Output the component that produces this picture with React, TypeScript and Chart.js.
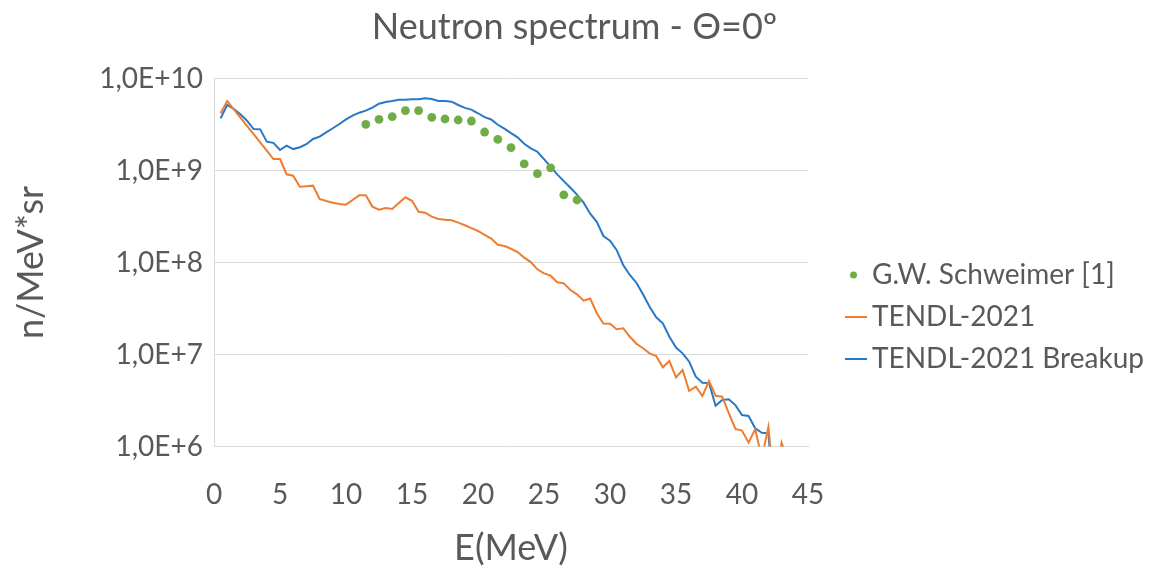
import React, { useEffect, useRef } from "react";
import { Chart, registerables } from "chart.js";

Chart.register(...registerables);

const chartTitle = "Neutron spectrum - Θ=0º";
const xAxisTitle = "E(MeV)";
const yAxisTitle = "n/MeV*sr";
const seriesNames = ["G.W. Schweimer [1]", "TENDL-2021", "TENDL-2021 Breakup"];

const xTickValues = [0, 5, 10, 15, 20, 25, 30, 35, 40, 45];
const yTickValues = [1e6, 1e7, 1e8, 1e9, 1e10];
const yTickLabels = ["1,0E+6", "1,0E+7", "1,0E+8", "1,0E+9", "1,0E+10"];

const energyMeV = [
  0.5, 1.0, 1.5, 2.0, 2.5, 3.0, 3.5, 4.0, 4.5, 5.0,
  5.5, 6.0, 6.5, 7.0, 7.5, 8.0, 8.5, 9.0, 9.5, 10.0,
  10.5, 11.0, 11.5, 12.0, 12.5, 13.0, 13.5, 14.0, 14.5, 15.0,
  15.5, 16.0, 16.5, 17.0, 17.5, 18.0, 18.5, 19.0, 19.5, 20.0,
  20.5, 21.0, 21.5, 22.0, 22.5, 23.0, 23.5, 24.0, 24.5, 25.0,
  25.5, 26.0, 26.5, 27.0, 27.5, 28.0, 28.5, 29.0, 29.5, 30.0,
  30.5, 31.0, 31.5, 32.0, 32.5, 33.0, 33.5, 34.0, 34.5, 35.0,
  35.5, 36.0, 36.5, 37.0, 37.5, 38.0, 38.5, 39.0, 39.5, 40.0,
  40.5, 41.0, 41.5, 42.0, 42.5, 43.0, 43.5,
];

const tendlValues = [
  4.19e9, 5.69e9, 4.62e9, 3.75e9, 3.05e9, 2.49e9, 2.02e9, 1.64e9, 1.33e9, 1.33e9,
  9.10e8, 8.79e8, 6.67e8, 6.73e8, 6.84e8, 4.90e8, 4.66e8, 4.47e8, 4.33e8, 4.25e8,
  4.78e8, 5.37e8, 5.37e8, 4.05e8, 3.75e8, 3.91e8, 3.82e8, 4.44e8, 5.11e8, 4.68e8,
  3.56e8, 3.48e8, 3.15e8, 2.97e8, 2.92e8, 2.88e8, 2.71e8, 2.54e8, 2.36e8, 2.20e8,
  2.00e8, 1.82e8, 1.56e8, 1.51e8, 1.41e8, 1.30e8, 1.13e8, 1.01e8, 8.43e7, 7.62e7,
  7.19e7, 6.10e7, 5.94e7, 5.02e7, 4.51e7, 3.85e7, 4.06e7, 2.81e7, 2.17e7, 2.16e7,
  1.88e7, 1.93e7, 1.56e7, 1.31e7, 1.17e7, 1.03e7, 9.64e6, 7.26e6, 8.49e6, 5.65e6,
  6.79e6, 4.01e6, 4.47e6, 3.54e6, 5.15e6, 3.56e6, 3.48e6, 2.30e6, 1.55e6, 1.49e6,
  1.10e6, 1.54e6, 7.5e5, 1.64e6, 3.0e5, 1.10e6, 7.0e5,
];

const breakupValues = [
  3.69e9, 5.15e9, 4.66e9, 4.08e9, 3.48e9, 2.82e9, 2.80e9, 2.06e9, 2.00e9, 1.67e9,
  1.86e9, 1.71e9, 1.79e9, 1.93e9, 2.20e9, 2.33e9, 2.60e9, 2.88e9, 3.20e9, 3.60e9,
  3.94e9, 4.25e9, 4.47e9, 4.82e9, 5.32e9, 5.56e9, 5.69e9, 5.89e9, 5.89e9, 5.94e9,
  5.94e9, 6.10e9, 5.98e9, 5.69e9, 5.69e9, 5.60e9, 5.15e9, 4.79e9, 4.59e9, 4.19e9,
  3.80e9, 3.59e9, 3.14e9, 2.85e9, 2.55e9, 2.29e9, 1.95e9, 1.74e9, 1.60e9, 1.33e9,
  1.10e9, 9.08e8, 7.67e8, 6.50e8, 5.46e8, 4.47e8, 3.39e8, 2.77e8, 1.94e8, 1.73e8,
  1.37e8, 9.40e7, 7.31e7, 6.03e7, 4.51e7, 3.31e7, 2.54e7, 2.18e7, 1.56e7, 1.19e7,
  1.03e7, 8.36e6, 5.74e6, 4.93e6, 4.90e6, 2.77e6, 3.20e6, 3.26e6, 2.82e6, 2.20e6,
  2.15e6, 1.58e6, 1.41e6, 1.39e6, 2.0e5, null, null,
];

const schweimerEnergy = [
  11.5, 12.5, 13.5, 14.5, 15.5, 16.5, 17.5, 18.5, 19.5,
  20.5, 21.5, 22.5, 23.5, 24.5, 25.5, 26.5, 27.5,
];
const schweimerValues = [
  3.18e9, 3.60e9, 3.85e9, 4.47e9, 4.47e9, 3.78e9, 3.63e9, 3.54e9, 3.45e9,
  2.62e9, 2.18e9, 1.77e9, 1.18e9, 9.23e8, 1.07e9, 5.42e8, 4.78e8,
];

const TEXT = "#595959";
const GRID = "#d9d9d9";
const GREEN = "#70AD47";
const ORANGE = "#ED7D31";
const BLUE = "#2878C8";
const FONT = "Lato";

export default function App() {
  const ref = useRef<HTMLCanvasElement>(null);

  useEffect(() => {
    let chart: Chart | null = null;
    let cancelled = false;

    const build = () => {
      if (cancelled || !ref.current) return;

      const makeDot = () => {
        const c = document.createElement("canvas");
        c.width = 80; c.height = 12;
        const g = c.getContext("2d")!;
        g.fillStyle = GREEN;
        g.beginPath(); g.arc(53.5, 6, 3.5, 0, Math.PI * 2); g.fill();
        return c;
      };
      const makeLine = (color: string) => {
        const c = document.createElement("canvas");
        c.width = 80; c.height = 4;
        const g = c.getContext("2d")!;
        g.strokeStyle = color; g.lineWidth = 2;
        g.beginPath(); g.moveTo(45, 2); g.lineTo(67, 2); g.stroke();
        return c;
      };
      const markers = [makeDot(), makeLine(ORANGE), makeLine(BLUE)];

      const legendFix = {
        id: "legendFix",
        beforeLayout(ch: any) {
          const lg = ch.legend;
          if (lg && !lg.__fixed) {
            const orig = lg.fit.bind(lg);
            lg.fit = function () { orig(); this.width = 341; };
            lg.__fixed = true;
          }
        },
      };

      const baseLabels = (Chart as any).defaults.plugins.legend.labels.generateLabels;

      chart = new Chart(ref.current, {
        type: "line",
        data: {
          datasets: [
            {
              label: seriesNames[0],
              data: schweimerEnergy.map((x, i) => ({ x, y: schweimerValues[i] })),
              showLine: false,
              pointRadius: 4.4,
              pointBackgroundColor: GREEN,
              pointBorderColor: GREEN,
              pointBorderWidth: 0,
              backgroundColor: GREEN,
              borderColor: GREEN,
            },
            {
              label: seriesNames[1],
              data: energyMeV.map((x, i) => ({ x, y: tendlValues[i] })),
              borderColor: ORANGE,
              backgroundColor: ORANGE,
              borderWidth: 2,
              pointRadius: 0,
              tension: 0,
            },
            {
              label: seriesNames[2],
              data: energyMeV.map((x, i) => ({ x, y: breakupValues[i] })),
              borderColor: BLUE,
              backgroundColor: BLUE,
              borderWidth: 2,
              pointRadius: 0,
              tension: 0,
            },
          ],
        },
        options: {
          responsive: false,
          devicePixelRatio: 1,
          animation: false,
          events: [],
          layout: { padding: 0 },
          scales: {
            x: {
              type: "linear",
              min: 0,
              max: 45,
              afterBuildTicks: (s: any) => { s.ticks = xTickValues.map((v) => ({ value: v })); },
              afterFit: (s: any) => { s.height = 119.5; },
              grid: { display: false, drawTicks: false },
              border: { display: true, color: GRID, width: 1 },
              ticks: {
                color: TEXT,
                padding: 31.5,
                font: { family: FONT, size: 28 },
                maxRotation: 0,
                autoSkip: false,
                callback: (v: any) => String(v),
              },
              title: {
                display: true,
                text: xAxisTitle,
                color: TEXT,
                font: { family: FONT, size: 36, lineHeight: 1 },
                padding: { top: 0, bottom: 0 },
              },
            },
            y: {
              type: "logarithmic",
              min: 1e6,
              max: 1e10,
              afterBuildTicks: (s: any) => { s.ticks = yTickValues.map((v) => ({ value: v })); },
              afterFit: (s: any) => { s.width = 214; },
              grid: { color: GRID, lineWidth: 1, drawTicks: false },
              border: { display: true, color: GRID, width: 1 },
              ticks: {
                color: TEXT,
                padding: 11,
                font: { family: FONT, size: 28 },
                autoSkip: false,
                callback: (_v: any, i: number) => yTickLabels[i],
              },
              title: {
                display: true,
                text: yAxisTitle,
                color: TEXT,
                font: { family: FONT, size: 36, lineHeight: 1 },
                padding: { top: 13, bottom: 0 },
              },
            },
          },
          plugins: {
            tooltip: { enabled: false },
            title: {
              display: true,
              text: chartTitle,
              color: TEXT,
              font: { family: FONT, size: 36, weight: "normal", lineHeight: 1.2 },
              padding: { top: 5.4, bottom: 29.9 },
            },
            legend: {
              position: "right",
              align: "center",
              title: {
                display: true,
                text: " ",
                font: { family: FONT, size: 20, lineHeight: 1 },
                padding: { top: 48, bottom: 0 },
              },
              labels: {
                usePointStyle: true,
                pointStyleWidth: 36,
                padding: 14,
                color: TEXT,
                font: { family: FONT, size: 28 },
                generateLabels: (ch: any) =>
                  baseLabels(ch).map((it: any, i: number) => ({ ...it, pointStyle: markers[i] })),
              },
            },
          },
        } as any,
        plugins: [legendFix],
      });
    };

    const fonts: any = (document as any).fonts;
    if (fonts && fonts.load) {
      Promise.all([fonts.load(`28px ${FONT}`), fonts.load(`36px ${FONT}`)]).then(build, build);
    } else {
      build();
    }

    return () => {
      cancelled = true;
      if (chart) chart.destroy();
    };
  }, []);

  return (
    <div style={{ position: "absolute", left: 0, top: 0, width: 1149, height: 566, background: "#ffffff" }}>
      <canvas ref={ref} width={1149} height={566} style={{ display: "block" }} />
    </div>
  );
}
